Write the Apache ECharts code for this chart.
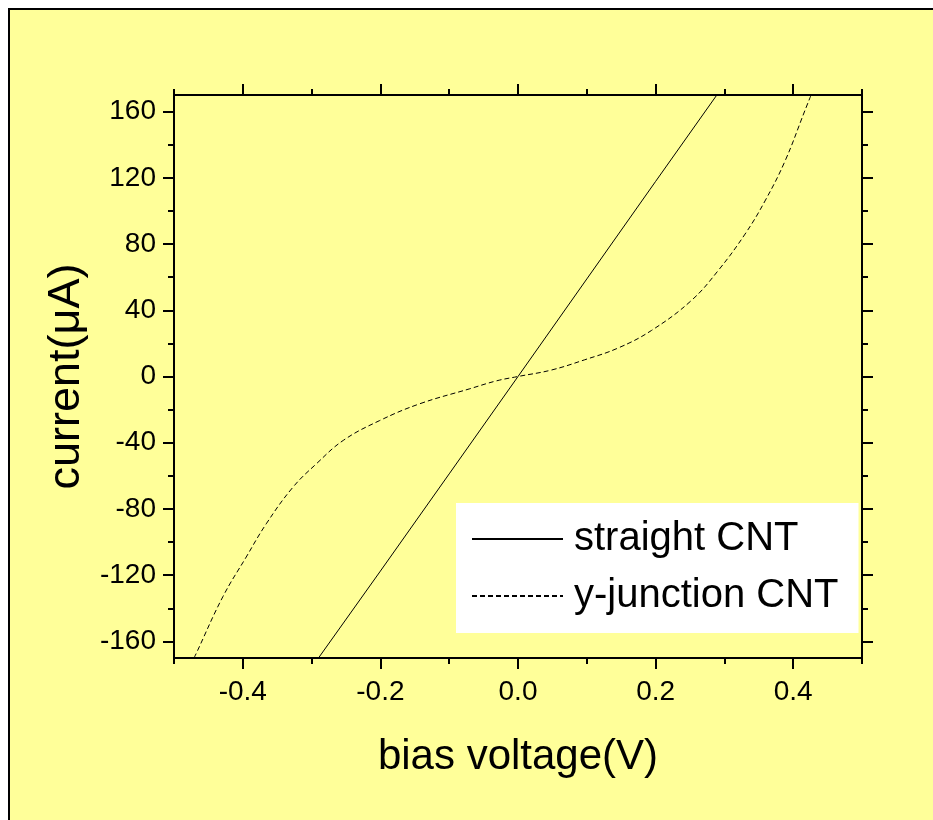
<!DOCTYPE html>
<html><head><meta charset="utf-8">
<script src="https://cdn.jsdelivr.net/npm/echarts@6/dist/echarts.min.js"></script>
<style>
html,body{margin:0;padding:0;background:#fff;}
body{width:933px;height:820px;overflow:hidden;position:relative;}
#frame{position:absolute;left:8px;top:8px;width:1000px;height:1000px;background:#FFFF99;border-left:2px solid #000;border-top:2px solid #000;}
#chart{position:absolute;left:0;top:0;width:933px;height:820px;}
</style></head><body>
<div id="frame"></div><div id="chart"></div>
<script>
// straight CNT: bias voltage (V) vs current (uA)
const straightV = [-0.29, -0.2, -0.1, 0, 0.1, 0.2, 0.289];
const straightI = [-170, -117.5, -58.8, 0, 58.9, 117.8, 170];
// y-junction CNT
const yjV = [-0.471, -0.468, -0.429, -0.395, -0.366, -0.327, -0.293, -0.254, -0.201, -0.143, -0.070, -0.031, 0, 0.0485, 0.097, 0.1455, 0.194, 0.252, 0.291, 0.330, 0.359, 0.388, 0.417, 0.426];
const yjI = [-170, -167.5, -133, -109, -89, -66.8, -52.7, -38.6, -26.6, -16.5, -7.4, -2.6, 0, 3.9, 10.1, 17.2, 27.8, 45.9, 64, 86, 106, 130, 160.6, 170];
const xMajorTicks = [-0.4, -0.2, 0, 0.2, 0.4];
const xMinorTicks = [-0.5, -0.3, -0.1, 0.1, 0.3, 0.5];
const yMajorTicks = [-160, -120, -80, -40, 0, 40, 80, 120, 160];
const yMinorTicks = [-140, -100, -60, -20, 20, 60, 100, 140];
const seriesNames = ['straight CNT', 'y-junction CNT'];
const xTitle = 'bias voltage(V)';
const yTitle = 'current(\u03BCA)';

const FONT = '"Liberation Sans", Arial, sans-serif';
const lineCol = '#000';

function mkAxis(kind, pos, ticks, len, label) {
  const a = {
    type: 'value', position: pos,
    min: kind === 'x' ? -0.5 : -170,
    max: kind === 'x' ? 0.5 : 170,
    interval: kind === 'x' ? 0.1 : 10,
    axisLine: {show: true, onZero: false, lineStyle: {color: lineCol, width: 2}},
    axisTick: {show: true, inside: false, length: len, customValues: ticks, lineStyle: {color: lineCol, width: 2}},
    axisLabel: {show: false},
    splitLine: {show: false},
    minorTick: {show: false}
  };
  if (label) {
    a.axisLabel = {
      show: true, customValues: ticks, color: '#000', fontFamily: FONT, fontSize: 28,
      margin: kind === 'x' ? 20 : 18,
      formatter: kind === 'x' ? (v => (Math.abs(v) < 1e-9 ? 0 : v).toFixed(1)) : (v => String(Math.round(v)))
    };
  }
  return a;
}

const xAxes = [
  mkAxis('x', 'bottom', xMajorTicks, 11, true),
  mkAxis('x', 'bottom', xMinorTicks, 6, false),
  mkAxis('x', 'top', xMajorTicks, 11, false),
  mkAxis('x', 'top', xMinorTicks, 6, false)
];
Object.assign(xAxes[0], {name: xTitle, nameLocation: 'middle', nameGap: 78,
  nameTextStyle: {color: '#000', fontFamily: FONT, fontSize: 42}});
const yAxes = [
  mkAxis('y', 'left', yMajorTicks, 11, true),
  mkAxis('y', 'left', yMinorTicks, 6, false),
  mkAxis('y', 'right', yMajorTicks, 11, false),
  mkAxis('y', 'right', yMinorTicks, 6, false)
];
Object.assign(yAxes[0], {name: yTitle, nameLocation: 'middle', nameGap: 85,
  nameTextStyle: {color: '#000', fontFamily: FONT, fontSize: 45}});

const chart = echarts.init(document.getElementById('chart'), null, {renderer: 'canvas'});
chart.setOption({
  animation: false,
  backgroundColor: 'transparent',
  grid: {left: 174, top: 95, right: 71, bottom: 162, containLabel: false},
  xAxis: xAxes,
  yAxis: yAxes,
  legend: {
    orient: 'vertical', left: 456, top: 503,
    backgroundColor: '#fff', padding: [16, 20, 17, 15],
    itemWidth: 91, itemHeight: 14, itemGap: 17,
    itemStyle: {color: 'rgba(0,0,0,0)', borderColor: 'rgba(0,0,0,0)', borderWidth: 0},
    textStyle: {color: '#000', fontFamily: FONT, fontSize: 40, padding: [0, 0, 0, 6]},
    data: seriesNames
  },
  series: [
    {name: seriesNames[0], type: 'line', symbol: 'none', smooth: false,
     lineStyle: {color: '#000', width: 1, type: 'solid'}, itemStyle: {color: '#000'},
     data: straightV.map((v, i) => [v, straightI[i]])},
    {name: seriesNames[1], type: 'line', symbol: 'none', smooth: 0.4,
     lineStyle: {color: '#000', width: 1, type: [5, 3]}, itemStyle: {color: '#000'},
     data: yjV.map((v, i) => [v, yjI[i]])}
  ]
});
</script>
</body></html>
